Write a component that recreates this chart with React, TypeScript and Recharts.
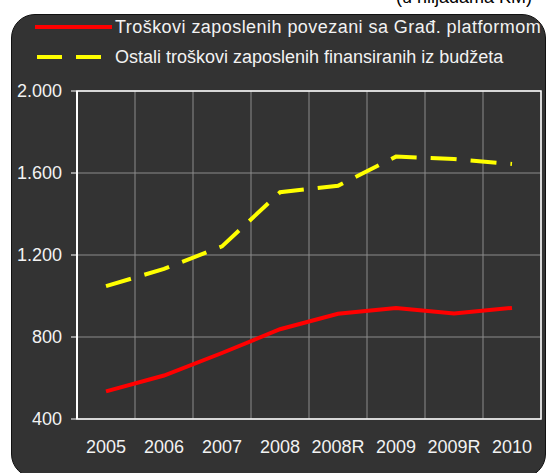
import React from "react";
import {
  LineChart,
  Line,
  XAxis,
  YAxis,
  CartesianGrid,
  ReferenceArea,
} from "recharts";

const categories = ["2005", "2006", "2007", "2008", "2008R", "2009", "2009R", "2010"];
const platformCosts = [535, 612, 722, 838, 913, 942, 915, 942];
const budgetCosts = [1048, 1132, 1242, 1506, 1538, 1680, 1668, 1644];
const yTicks = [400, 800, 1200, 1600, 2000];

const platformName = "Troškovi zaposlenih povezani sa Građ. platformom";
const budgetName = "Ostali troškovi zaposlenih finansiranih iz budžeta";
const unitNote = "(u hiljadama KM)";

const FONT = '"Liberation Sans", Arial, sans-serif';
const TEXT = "#f2f2f2";

// x positions: each category sits in the middle of its slot, grid lines on slot edges
const data = categories.map((cat, i) => ({
  pos: i + 0.5,
  cat,
  platform: platformCosts[i],
  budget: budgetCosts[i],
}));
const labelTicks = categories.map((_, i) => i + 0.5);
const edgeTicks = [...categories.map((_, i) => i), categories.length];

const fmt = (v: number) => String(v).replace(/\B(?=(\d{3})+(?!\d))/g, ".");

function LegendBox() {
  return (
    <div
      style={{
        position: "absolute",
        left: 0,
        top: 0,
        fontFamily: FONT,
        fontSize: 18,
        color: TEXT,
      }}
    >
      <svg width={115} height={80} style={{ position: "absolute", left: 0, top: 0 }}>
        <line x1={35} x2={112} y1={27} y2={27} stroke="#ff0000" strokeWidth={4} />
        <line
          x1={37}
          x2={105}
          y1={57}
          y2={57}
          stroke="#ffff00"
          strokeWidth={4}
          strokeDasharray="25 14"
        />
      </svg>
      <div
        style={{
          position: "absolute",
          left: 115,
          top: 16,
          whiteSpace: "nowrap",
          lineHeight: "22px",
          letterSpacing: 0.45,
        }}
      >
        {platformName}
      </div>
      <div style={{ position: "absolute", left: 115, top: 46, whiteSpace: "nowrap", lineHeight: "22px" }}>
        {budgetName}
      </div>
    </div>
  );
}

export default function App() {
  return (
    <div
      style={{
        position: "absolute",
        left: 0,
        top: 0,
        width: 547,
        height: 473,
        overflow: "hidden",
        background: "#ffffff",
      }}
    >
      <div
        style={{
          position: "absolute",
          left: 396,
          top: -12,
          fontFamily: FONT,
          fontSize: 18,
          lineHeight: "18px",
          color: "#000",
          whiteSpace: "nowrap",
        }}
      >
        {unitNote}
      </div>
      <div
        style={{
          position: "absolute",
          left: 11,
          top: 14,
          width: 535,
          height: 464,
          boxSizing: "border-box",
          background: "#333333",
          border: "1.5px solid #111",
          borderRadius: 24,
        }}
      />
      <div style={{ position: "absolute", left: 0, top: 0 }}>
        <LineChart
          width={547}
          height={473}
          data={data}
          margin={{ top: 91, right: 6, left: 17, bottom: 24 }}
        >
          <CartesianGrid xAxisId="edge" stroke="#8c8c8c" strokeWidth={1} />
          <XAxis
            xAxisId="edge"
            type="number"
            dataKey="pos"
            domain={[0, categories.length]}
            ticks={edgeTicks}
            tickFormatter={() => ""}
            height={0}
            tickSize={6}
            axisLine={{ stroke: "#ffffff", strokeWidth: 2 }}
            tickLine={{ stroke: "#ffffff", strokeWidth: 1 }}
          />
          <XAxis
            xAxisId="lab"
            type="number"
            dataKey="pos"
            domain={[0, categories.length]}
            ticks={labelTicks}
            interval={0}
            tickFormatter={(v: number) => categories[Math.floor(v)]}
            height={30}
            tickSize={6}
            tickMargin={15}
            axisLine={false}
            tickLine={false}
            tick={{ fill: TEXT, fontSize: 18, fontFamily: FONT }}
          />
          <YAxis
            domain={[400, 2000]}
            ticks={yTicks}
            interval={0}
            tickFormatter={fmt}
            width={60}
            tickSize={6}
            tickMargin={9}
            axisLine={{ stroke: "#ffffff", strokeWidth: 2 }}
            tickLine={{ stroke: "#ffffff", strokeWidth: 1 }}
            tick={{ fill: TEXT, fontSize: 18, fontFamily: FONT }}
          />
          <ReferenceArea
            xAxisId="edge"
            x1={0}
            x2={categories.length}
            y1={400}
            y2={2000}
            fill="none"
            stroke="#ffffff"
            strokeWidth={1.5}
          />
          <Line
            xAxisId="lab"
            type="linear"
            dataKey="platform"
            stroke="#ff0000"
            strokeWidth={4}
            dot={false}
            isAnimationActive={false}
          />
          <Line
            xAxisId="lab"
            type="linear"
            dataKey="budget"
            stroke="#ffff00"
            strokeWidth={4}
            strokeDasharray="26 14"
            dot={false}
            isAnimationActive={false}
          />
        </LineChart>
      </div>
      <LegendBox />
    </div>
  );
}
